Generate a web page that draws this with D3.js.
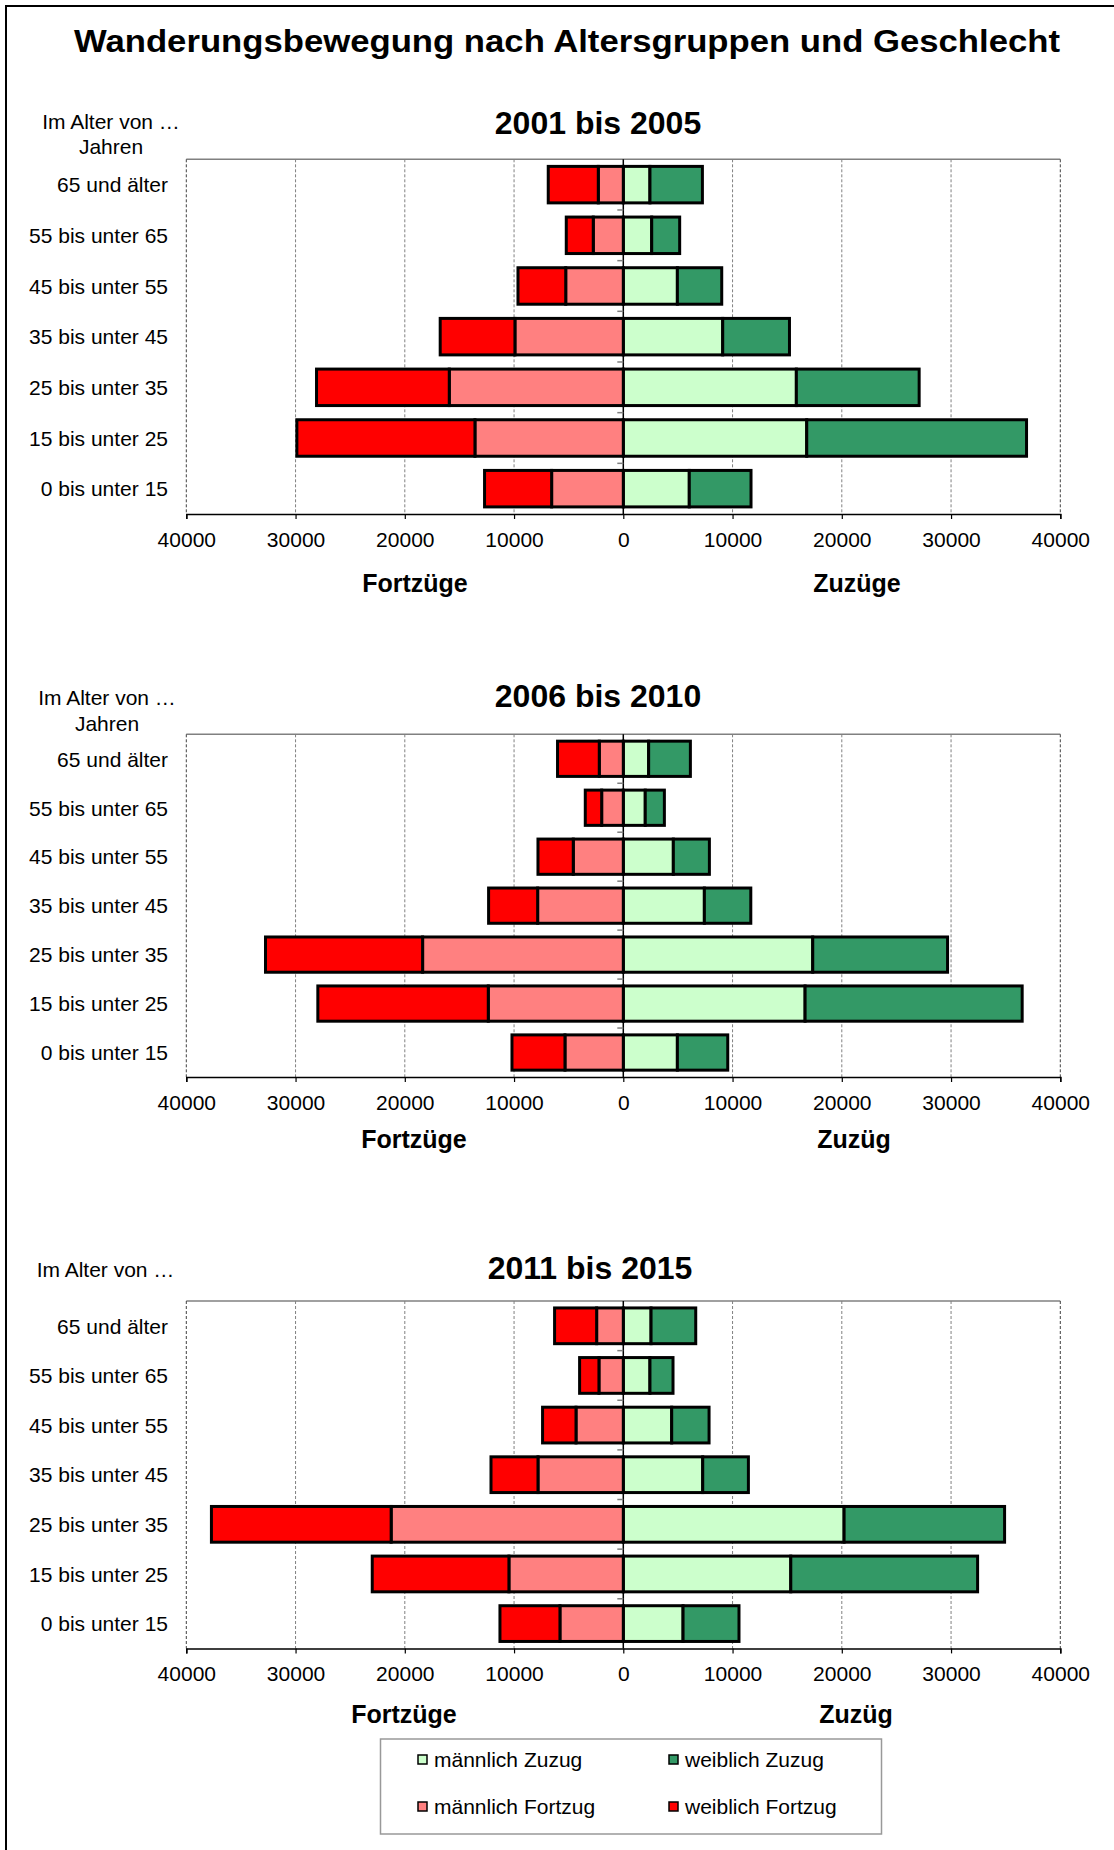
<!DOCTYPE html>
<html><head><meta charset="utf-8">
<script src="https://cdn.jsdelivr.net/npm/d3@7"></script>
<style>
body{margin:0;background:#fff}
svg{display:block}
text{font-family:"Liberation Sans",Arial,Helvetica,sans-serif;fill:#000}
</style>
</head><body>
<svg id="chart" width="1114" height="1850"></svg>
<script>
// ---------- data ----------
const chartTitle = "Wanderungsbewegung nach Altersgruppen und Geschlecht";
const categories = ["65 und älter","55 bis unter 65","45 bis unter 55","35 bis unter 45","25 bis unter 35","15 bis unter 25","0 bis unter 15"];
const periods = ["2001 bis 2005","2006 bis 2010","2011 bis 2015"];
const xTickValues = [-40000,-30000,-20000,-10000,0,10000,20000,30000,40000];
const seriesKeys = ["mZ","wZ","mF","wF"];
const seriesNames = ["männlich Zuzug","weiblich Zuzug","männlich Fortzug","weiblich Fortzug"];
const seriesColors = ["#CCFFCC","#339966","#FF8080","#FF0000"];
const leftAxisLabels = ["Fortzüge","Fortzüge","Fortzüge"];
const rightAxisLabels = ["Zuzüge","Zuzüg","Zuzüg"];
const ageHeaders = [["Im Alter von …","Jahren"],["Im Alter von …","Jahren"],["Im Alter von …"]];

// 2001 bis 2005 (order as categories, top to bottom)
const maleZuzug2001    = [2440, 2600, 4950, 9100, 15840, 16790, 6040];
const femaleZuzug2001  = [4800, 2560, 4060, 6110, 11240, 20120, 5650];
const maleFortzug2001  = [2290, 2750, 5270, 9920, 15930, 13580, 6560];
const femaleFortzug2001= [4580, 2470, 4370, 6840, 12150, 16300, 6140];
// 2006 bis 2010
const maleZuzug2006    = [2320, 2010, 4580, 7420, 17340, 16640, 4950];
const femaleZuzug2006  = [3820, 1750, 3300, 4250, 12340, 19870, 4610];
const maleFortzug2006  = [2200, 1980, 4580, 7840, 18370, 12360, 5340];
const femaleFortzug2006= [3820, 1500, 3230, 4490, 14380, 15600, 4850];
// 2011 bis 2015
const maleZuzug2011    = [2540, 2440, 4430, 7270, 20210, 15330, 5470];
const femaleZuzug2011  = [4090, 2110, 3420, 4180, 14690, 17100, 5120];
const maleFortzug2011  = [2440, 2230, 4330, 7810, 21250, 10470, 5800];
const femaleFortzug2011= [3850, 1770, 3060, 4300, 16450, 12510, 5490];

const panelData = [
  [maleZuzug2001, femaleZuzug2001, maleFortzug2001, femaleFortzug2001],
  [maleZuzug2006, femaleZuzug2006, maleFortzug2006, femaleFortzug2006],
  [maleZuzug2011, femaleZuzug2011, maleFortzug2011, femaleFortzug2011]
];

// ---------- layout ----------
const plotLeft = 186.3, plotRight = 1060.3;
const panels = [
  {top:159.3, bottom:514,   sub:[598,134],  age:[111,128.5],  fort:[415,592],  zu:[857,592]},
  {top:734.3, bottom:1077,  sub:[598,707],  age:[107,705],    fort:[414,1148], zu:[854,1148]},
  {top:1301,  bottom:1648.4,sub:[590,1279], age:[105.5,1277], fort:[404,1723], zu:[856,1723]}
];

const svg = d3.select("#chart");

// outer frame
svg.append("rect").attr("x",6).attr("y",6).attr("width",1130).attr("height",1870)
  .attr("fill","none").attr("stroke","#000").attr("stroke-width",2);

// main title
svg.append("text").attr("x",567).attr("y",52).attr("text-anchor","middle")
  .attr("font-size",32).attr("font-weight","bold")
  .attr("textLength",986).attr("lengthAdjust","spacingAndGlyphs")
  .text(chartTitle);

const x = d3.scaleLinear().domain([-40000,40000]).range([plotLeft, plotRight]);

const stack = d3.stack().keys(seriesKeys).offset(d3.stackOffsetDiverging);

panels.forEach((p, pi) => {
  const [mZ, wZ, mF, wF] = panelData[pi];
  const rows = categories.map((c, i) => ({cat:c, mZ:mZ[i], wZ:wZ[i], mF:-mF[i], wF:-wF[i]}));
  const y = d3.scaleBand().domain(categories).range([p.top, p.bottom])
    .paddingInner(0.28).paddingOuter(0.14);
  const g = svg.append("g");

  // subtitle
  g.append("text").attr("x",p.sub[0]).attr("y",p.sub[1]).attr("text-anchor","middle")
    .attr("font-size",32).attr("font-weight","bold").text(periods[pi]);
  // age header
  ageHeaders[pi].forEach((t, k) => {
    g.append("text").attr("x",p.age[0]).attr("y",p.age[1] + k*25.5).attr("text-anchor","middle")
      .attr("font-size",21).text(t);
  });

  // top border
  g.append("line").attr("x1",plotLeft).attr("x2",plotRight).attr("y1",p.top).attr("y2",p.top)
    .attr("stroke","#808080").attr("stroke-width",1.5);
  // gridlines
  g.selectAll(".grid").data(xTickValues.filter(v => v !== 0)).enter().append("line")
    .attr("x1",d => x(d)).attr("x2",d => x(d)).attr("y1",p.top).attr("y2",p.bottom)
    .attr("stroke", d => Math.abs(d) === 40000 ? "#404040" : "#808080")
    .attr("stroke-width",1).attr("stroke-dasharray","3,2");

  // zero axis with category ticks
  g.append("line").attr("x1",x(0)).attr("x2",x(0)).attr("y1",p.top).attr("y2",p.bottom)
    .attr("stroke","#000").attr("stroke-width",1.5);
  const bounds = d3.range(1, categories.length).map(i => p.top + i*(p.bottom - p.top)/categories.length);
  g.selectAll(".ct").data(bounds).enter().append("line")
    .attr("x1",x(0)-6).attr("x2",x(0)).attr("y1",d => d).attr("y2",d => d)
    .attr("stroke","#808080").attr("stroke-width",1.5);

  // bars
  const layers = stack(rows);
  layers.forEach((layer, li) => {
    g.selectAll(".bar"+li).data(layer).enter().append("rect")
      .attr("x", d => x(Math.min(d[0], d[1])))
      .attr("width", d => Math.abs(x(d[1]) - x(d[0])))
      .attr("y", d => y(d.data.cat))
      .attr("height", y.bandwidth())
      .attr("fill", seriesColors[li])
      .attr("stroke","#000").attr("stroke-width",3);
  });

  // bottom axis
  const axis = d3.axisBottom(x).tickValues(xTickValues).tickSize(5).tickPadding(12.5)
    .tickFormat(d => String(Math.abs(d)));
  const ax = g.append("g").attr("transform",`translate(0,${p.bottom})`).call(axis);
  ax.select(".domain").attr("stroke","#000").attr("stroke-width",1.5);
  ax.selectAll(".tick line").attr("stroke","#000").attr("stroke-width",1.2);
  ax.selectAll(".tick text").attr("font-size",21).attr("font-family",'"Liberation Sans",Arial,sans-serif')
    .attr("fill","#000").attr("dy","0.72em");

  // category labels
  g.selectAll(".cat").data(categories).enter().append("text")
    .attr("x",168).attr("y",d => y(d) + y.bandwidth()/2).attr("dy","0.37em")
    .attr("text-anchor","end").attr("font-size",21).text(d => d);

  // axis titles
  g.append("text").attr("x",p.fort[0]).attr("y",p.fort[1]).attr("text-anchor","middle")
    .attr("font-size",25).attr("font-weight","bold").text(leftAxisLabels[pi]);
  g.append("text").attr("x",p.zu[0]).attr("y",p.zu[1]).attr("text-anchor","middle")
    .attr("font-size",25).attr("font-weight","bold").text(rightAxisLabels[pi]);
});

// legend
const lg = svg.append("g");
lg.append("rect").attr("x",380.5).attr("y",1739).attr("width",501).attr("height",95)
  .attr("fill","#fff").attr("stroke","#999").attr("stroke-width",1.5);
const legendPos = [[418,1767],[669,1767],[418,1814],[669,1814]];
seriesNames.forEach((n, i) => {
  const [lx, ly] = legendPos[i];
  lg.append("rect").attr("x",lx).attr("y",ly-12).attr("width",9).attr("height",9)
    .attr("fill",seriesColors[i]).attr("stroke","#000").attr("stroke-width",1.5);
  lg.append("text").attr("x",lx+16).attr("y",ly).attr("font-size",21).text(n);
});
</script>
</body></html>
